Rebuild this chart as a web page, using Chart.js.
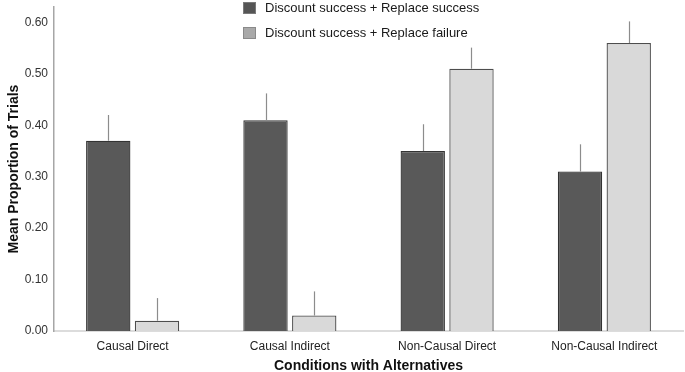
<!DOCTYPE html>
<html>
<head>
<meta charset="utf-8">
<title>Mean Proportion of Trials</title>
<script src="https://cdn.jsdelivr.net/npm/chart.js@4/dist/chart.umd.min.js"></script>
<style>
  html, body { margin: 0; padding: 0; background: #fff; }
  #chart-box { width: 685px; height: 372px; position: relative; }
</style>
</head>
<body>
<div id="chart-box"><canvas id="my-chart"></canvas></div>
<script>
'use strict';

// ******* DATA *********
let categories = ['Causal Direct', 'Causal Indirect', 'Non-Causal Direct', 'Non-Causal Indirect'];
let seriesNames = ['Discount success + Replace success', 'Discount success + Replace failure'];
let replaceSuccess = [0.37, 0.41, 0.35, 0.31];
let replaceFailure = [0.02, 0.03, 0.51, 0.56];
// upper error whiskers (only the top half is drawn)
let successErr = [0.05, 0.052, 0.052, 0.053];
let failureErr = [0.044, 0.047, 0.041, 0.042];
let yTicks = [0, 0.1, 0.2, 0.3, 0.4, 0.5, 0.6];

// ******* STYLE *********
let fontFamily = '"Liberation Sans", Arial, Helvetica, sans-serif';
let barFill = ['#595959', '#d9d9d9'];
let barEdge = ['#333333', '#4d4d4d'];
let legendFill = ['#555555', '#a9a9a9'];
let legendEdge = ['#7a7a7a', '#8a8a8a'];

// ******* CANVAS ELEMENT FOR CHART *****
let ctx = document.getElementById('my-chart');

// ****** PLUGINS ******
// upper whiskers, positioned through the chart scales
let errorBarPlugin = {
  id: 'errorBars',
  afterDatasetsDraw(chart) {
    let c = chart.ctx;
    let yScale = chart.scales.y;
    c.save();
    c.strokeStyle = '#8c8c8c';
    c.lineWidth = 1.2;
    chart.data.datasets.forEach((ds, di) => {
      let meta = chart.getDatasetMeta(di);
      meta.data.forEach((bar, i) => {
        let top = yScale.getPixelForValue(ds.data[i] + ds.errors[i]);
        let x = Math.round(bar.x) + 0.5;
        c.beginPath();
        c.moveTo(x, bar.y);
        c.lineTo(x, top);
        c.stroke();
      });
    });
    c.restore();
  }
};

// two-row legend sitting inside the top of the plot
let stackedLegend = {
  id: 'stackedLegend',
  afterDraw(chart) {
    let c = chart.ctx;
    c.save();
    c.font = '13px ' + fontFamily;
    c.textBaseline = 'middle';
    chart.data.datasets.forEach((ds, i) => {
      let y = 2 + i * 25;
      c.fillStyle = legendFill[i];
      c.fillRect(243, y, 13, 12);
      c.strokeStyle = legendEdge[i];
      c.lineWidth = 1;
      c.strokeRect(243.5, y + 0.5, 12, 11);
      c.fillStyle = '#1a1a1a';
      c.fillText(ds.label, 265, y + 6.5);
    });
    c.restore();
  }
};

// ****** HELPER FUNCTION TO RENDER CHART *****
function renderChart() {
  let chartObj = {
    type: 'bar',
    data: {
      labels: categories,
      datasets: [{
        label: seriesNames[0],
        data: replaceSuccess,
        errors: successErr,
        backgroundColor: barFill[0],
        borderColor: barEdge[0],
        borderWidth: 1.3
      },
      {
        label: seriesNames[1],
        data: replaceFailure,
        errors: failureErr,
        backgroundColor: barFill[1],
        borderColor: barEdge[1],
        borderWidth: 1.3
      }]
    },
    options: {
      responsive: true,
      maintainAspectRatio: false,
      animation: false,
      devicePixelRatio: 1,
      categoryPercentage: 0.62,
      barPercentage: 0.91,
      layout: { padding: { top: 7, right: 2, left: 0, bottom: 0 } },
      plugins: {
        legend: { display: false },
        tooltip: { enabled: false }
      },
      scales: {
        x: {
          grid: { display: false, drawTicks: false },
          border: { display: true, color: '#dcdcdc', width: 2 },
          ticks: { color: '#222', padding: 8, font: { family: fontFamily, size: 12 } },
          title: {
            display: true,
            text: 'Conditions with Alternatives',
            color: '#111',
            padding: { top: 0, bottom: -3 },
            font: { family: fontFamily, size: 14, weight: 'bold' }
          },
          afterFit(scale) {
            scale.height = 41;
            scale.paddingLeft = 0;
            scale.paddingRight = 0;
          }
        },
        y: {
          min: 0,
          max: 0.63,
          grid: { display: false, drawTicks: false },
          border: { display: true, color: '#a6a6a6', width: 1.5 },
          ticks: {
            color: '#333',
            padding: 6,
            font: { family: fontFamily, size: 12 },
            callback: (v) => v.toFixed(2)
          },
          afterBuildTicks(axis) {
            axis.ticks = yTicks.map((v) => ({ value: v }));
          },
          title: {
            display: true,
            text: 'Mean Proportion of Trials',
            color: '#111',
            padding: { top: 6, bottom: 0 },
            font: { family: fontFamily, size: 14, weight: 'bold' }
          },
          afterFit(scale) {
            scale.width = 54;
            scale.paddingTop = 0;
            scale.paddingBottom = 0;
          }
        }
      }
    },
    plugins: [errorBarPlugin, stackedLegend]
  };

  new Chart(ctx, chartObj); //eslint-disable-line
}

// ***** EXECUTABLE CODE ******
renderChart();
</script>
</body>
</html>
